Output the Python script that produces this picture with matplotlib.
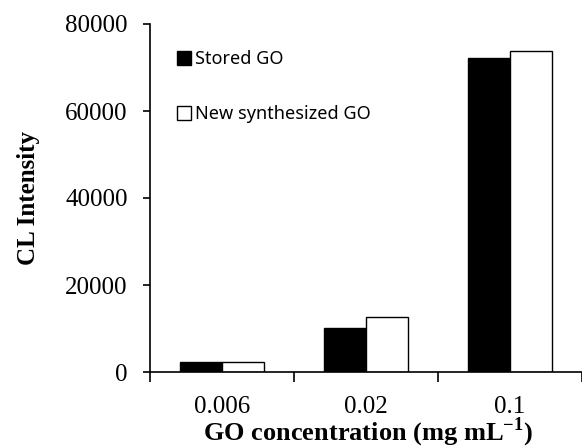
import matplotlib.pyplot as plt
from matplotlib.patches import Rectangle
import numpy as np

plt.rcParams['mathtext.fontset'] = 'custom'
plt.rcParams['mathtext.rm'] = 'Liberation Serif'
plt.rcParams['mathtext.bf'] = 'Liberation Serif:bold'

# data
categories = ['0.006', '0.02', '0.1']
stored = [2300, 10200, 72200]
new_synth = [2300, 12600, 73800]
series_names = ['Stored GO', 'New synthesized GO']
yticks = [0, 20000, 40000, 60000, 80000]

fig = plt.figure(figsize=(5.82, 4.48), dpi=100)
ax = fig.add_axes([150 / 582, 76 / 448, 432 / 582, 348 / 448])

x = np.arange(len(categories))
w = 0.29
ax.bar(x - w / 2, stored, w, color='black', edgecolor='black', linewidth=1)
ax.bar(x + w / 2, new_synth, w, color='white', edgecolor='black', linewidth=1)

ax.set_xlim(-0.5, 2.445)
ax.set_ylim(0, 80000)
ax.set_yticks(yticks)
ax.set_yticklabels([str(v) for v in yticks], family='Liberation Serif', fontsize=18)
ax.set_xticks(x)
ax.set_xticklabels(categories, family='Liberation Serif', fontsize=18)
ax.set_xticks([-0.5, 0.5, 1.5, 2.5], minor=True)
ax.tick_params(axis='x', which='major', length=0, pad=17.5)
ax.tick_params(axis='x', which='minor', length=7, width=1.2, direction='out')
ax.tick_params(axis='y', length=5, width=1.2, direction='out', pad=11)

for s in ['top', 'right']:
    ax.spines[s].set_visible(False)
for s in ['left', 'bottom']:
    ax.spines[s].set_linewidth(1.2)

ax.set_ylabel('CL Intensity', family='Liberation Serif', fontweight='bold', fontsize=18, labelpad=18)
fig.text(368 / 582, (448 - 440) / 448, r'GO concentration (mg mL$^{\mathbf{-1}}$)',
         family='Liberation Serif', fontweight='bold', fontsize=19, ha='center', va='baseline')

handles = [Rectangle((0, 0), 1, 1, facecolor='black', edgecolor='black'),
           Rectangle((0, 0), 1, 1, facecolor='white', edgecolor='black')]
ax.legend(handles, series_names, loc='upper left', bbox_to_anchor=(168 / 582, 1 - 41 / 448),
          bbox_transform=fig.transFigure, frameon=False,
          prop={'family': 'Noto Sans', 'size': 13},
          handlelength=0.8, handleheight=0.8, handletextpad=0.2, labelspacing=2.05, borderpad=0)

plt.savefig('out.png', dpi=100)
